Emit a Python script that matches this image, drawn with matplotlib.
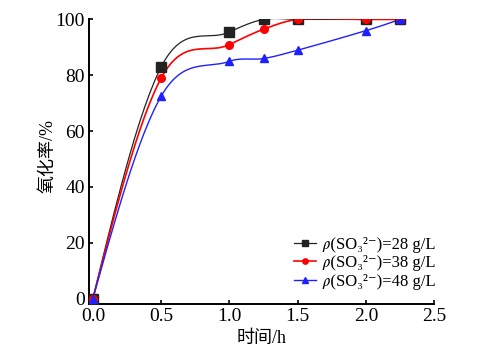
import numpy as np
import matplotlib
matplotlib.use("Agg")
import matplotlib.pyplot as plt

time_h = [0.0, 0.5, 1.0, 1.25, 1.5, 2.0, 2.25]
rate_28 = [0.0, 83.0, 95.5, 100.0, 100.0, 100.0, 100.0]
rate_38 = [0.0, 79.0, 91.0, 96.5, 100.0, 100.0, 100.0]
rate_48 = [0.0, 72.5, 85.0, 86.0, 89.0, 96.0, 100.0]
labels = ['\U0001D70C(SO₃²⁻)=28 g/L',
          '\U0001D70C(SO₃²⁻)=38 g/L',
          '\U0001D70C(SO₃²⁻)=48 g/L']
x_ticks = [0.0, 0.5, 1.0, 1.5, 2.0, 2.5]
y_ticks = [0, 20, 40, 60, 80, 100]

plt.rcParams['font.family'] = ['Liberation Serif', 'STIXGeneral', 'DejaVu Serif',
                               'Noto Sans CJK SC']


def smooth(x, y, n=30):
    x = np.asarray(x, float)
    y = np.asarray(y, float)
    m = np.zeros_like(y)
    for i in range(1, len(x) - 1):
        m[i] = (y[i + 1] - y[i - 1]) / (x[i + 1] - x[i - 1])
    d0 = (y[1] - y[0]) / (x[1] - x[0])
    dn = (y[-1] - y[-2]) / (x[-1] - x[-2])
    m[0] = (3 * d0 - m[1]) / 2
    m[-1] = (3 * dn - m[-2]) / 2
    xs, ys = [], []
    for i in range(len(x) - 1):
        h = x[i + 1] - x[i]
        t = np.linspace(0, 1, n)
        h00 = 2 * t**3 - 3 * t**2 + 1
        h10 = t**3 - 2 * t**2 + t
        h01 = -2 * t**3 + 3 * t**2
        h11 = t**3 - t**2
        xs.append(x[i] + t * h)
        ys.append(h00 * y[i] + h10 * h * m[i] + h01 * y[i + 1] + h11 * h * m[i + 1])
    return np.concatenate(xs), np.concatenate(ys)


fig = plt.figure(figsize=(4.8, 3.53), dpi=100)
ax = fig.add_axes([0.185, 0.14, 0.72, 0.805])

series = [
    (rate_28, '#222222', 's', 6.5, 0.9),
    (rate_38, '#ff0000', 'o', 5.5, 1.2),
    (rate_48, '#2020ff', '^', 5.5, 1.0),
]
handles = []
for (vals, col, mk, ms, lw), lab in zip(series, labels):
    sx, sy = smooth(time_h, vals)
    ax.plot(sx, sy, color=col, lw=lw, zorder=2)
    ax.plot(time_h, vals, linestyle='none', marker=mk, color=col, ms=ms, zorder=3)
    h, = ax.plot([], [], color=col, lw=lw, marker=mk, ms=ms * 0.7)
    handles.append(h)

ax.set_xlim(-0.03, 2.5)
ax.set_ylim(-1.8, 100)
ax.set_xticks(x_ticks)
ax.set_yticks(y_ticks)
ax.set_xticklabels([f'{v:.1f}' for v in x_ticks])
ax.set_yticklabels([str(v) for v in y_ticks])
for s in ['top', 'right']:
    ax.spines[s].set_visible(False)
for s in ['left', 'bottom']:
    ax.spines[s].set_linewidth(1.4)
ax.tick_params(direction='in', length=3, width=1.2, labelsize=14, pad=3)
ax.set_xlabel('时间/h', fontsize=13, labelpad=4)
ax.set_ylabel('氧化率/%', fontsize=13)
ax.yaxis.set_label_coords(-0.092, 0.52)

ax.legend(handles, labels, loc='lower right', bbox_to_anchor=(1.037, 0.008),
          frameon=False, fontsize=12, handlelength=1.3, handletextpad=0.35,
          labelspacing=0.15, borderpad=0.2)

fig.savefig('out.png', dpi=100)
